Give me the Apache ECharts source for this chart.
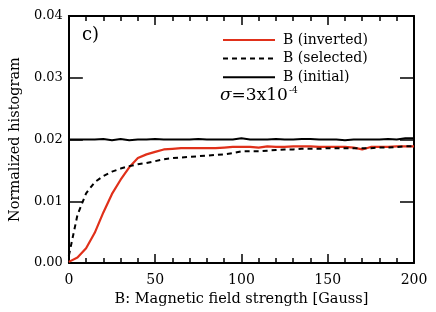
<!DOCTYPE html>
<html><head><meta charset="utf-8">
<script src="https://cdn.jsdelivr.net/npm/echarts@6/dist/echarts.min.js"></script>
<style>html,body{margin:0;padding:0;background:#fff}#c{width:436px;height:312px}</style>
</head><body><div id="c"></div>
<script>
const fieldB = [0,5,10,15,20,25,30,35,40,45,50,55,60,65,70,75,80,85,90,95,100,105,110,115,120,125,130,135,140,145,150,155,160,165,170,175,180,185,190,195,200];
const inverted = [0.0002,0.0009,0.0024,0.0049,0.0082,0.0112,0.0135,0.0155,0.0170,0.0176,0.0180,0.0184,0.0185,0.0186,0.0186,0.0186,0.0186,0.0186,0.0187,0.0188,0.0188,0.0188,0.0187,0.0189,0.0188,0.0188,0.0189,0.0189,0.0189,0.0188,0.0188,0.0188,0.0188,0.0187,0.0184,0.0188,0.0188,0.0188,0.0189,0.0189,0.0189];
const selected = [0.0012,0.0078,0.0113,0.0131,0.0141,0.0148,0.0153,0.0157,0.0160,0.0162,0.0165,0.0168,0.0170,0.0171,0.0172,0.0173,0.0174,0.0175,0.0176,0.0178,0.0181,0.0181,0.0181,0.0182,0.0183,0.0184,0.0184,0.0185,0.0185,0.0185,0.0186,0.0186,0.0186,0.0186,0.0186,0.0186,0.0187,0.0187,0.0188,0.0189,0.0189];
const initial = [0.0200,0.0200,0.0200,0.0200,0.0201,0.0199,0.0201,0.0199,0.0200,0.0200,0.0201,0.0200,0.0200,0.0200,0.0200,0.0201,0.0200,0.0200,0.0200,0.0200,0.0202,0.0200,0.0200,0.0200,0.0201,0.0200,0.0200,0.0201,0.0201,0.0200,0.0200,0.0200,0.0199,0.0200,0.0200,0.0200,0.0200,0.0201,0.0200,0.0202,0.0202];
const xTicks = [0,50,100,150,200];
const yTicks = ['0.00','0.01','0.02','0.03','0.04'];
const seriesNames = ['B (inverted)','B (selected)','B (initial)'];

const FONT = 'DejaVu Serif';
const RED = '#e0301a';
const pair = a => fieldB.map((b,i)=>[b,a[i]]);
const axLine = {show:true, onZero:false, lineStyle:{color:'#000', width:2}};
const tick = (len) => ({inside:true, length:len, lineStyle:{color:'#000', width:1.5}});
const chart = echarts.init(document.getElementById('c'), null, {renderer:'canvas'});
chart.setOption({
  animation:false,
  backgroundColor:'#fff',
  grid:{left:65, right:22, top:16, bottom:48},
  xAxis:[
    {type:'value', position:'bottom', min:0, max:200, interval:50,
     axisLine:axLine, splitLine:{show:false},
     axisTick:tick(9),
     minorTick:{show:true, splitNumber:5, length:5, lineStyle:{color:'#000', width:1.5}},
     axisLabel:{margin:10, color:'#000', fontFamily:FONT, fontSize:14,
       formatter:(v)=>String(xTicks[Math.round(v/50)])},
     name:'B: Magnetic field strength [Gauss]', nameLocation:'middle', nameGap:26,
     nameTextStyle:{color:'#000', fontFamily:FONT, fontSize:14.5}},
    {type:'value', position:'top', min:0, max:200, interval:50,
     axisLine:axLine, splitLine:{show:false},
     axisTick:tick(9),
     minorTick:{show:true, splitNumber:5, length:5, lineStyle:{color:'#000', width:1.5}},
     axisLabel:{show:false}}
  ],
  yAxis:[
    {type:'value', position:'left', min:0, max:0.04, interval:0.01,
     axisLine:axLine, splitLine:{show:false},
     axisTick:tick(14),
     axisLabel:{margin:6, color:'#000', fontFamily:FONT, fontSize:13,
       formatter:(v)=>yTicks[Math.round(v/0.01)]},
     name:'Normalized histogram', nameLocation:'middle', nameGap:44,
     nameTextStyle:{color:'#000', fontFamily:FONT, fontSize:14.5}},
    {type:'value', position:'right', min:0, max:0.04, interval:0.01,
     axisLine:axLine, splitLine:{show:false},
     axisTick:tick(14),
     axisLabel:{show:false}}
  ],
  legend:{
    orient:'vertical', left:217, top:28, itemWidth:52, itemHeight:14, itemGap:4.6,
    data:seriesNames,
    itemStyle:{opacity:0},
    textStyle:{color:'#000', fontFamily:FONT, fontSize:14, padding:[0,0,9,3]},
    selectedMode:false
  },
  graphic:[
    {type:'text', left:82, top:26, style:{text:'c)', fill:'#000', font:'18px "DejaVu Serif"'}},
    {type:'text', left:220, top:86, style:{
      text:'{i|σ}{n|=3x10}{s|-4}', fill:'#000',
      rich:{
        i:{fontStyle:'italic', fontFamily:FONT, fontSize:17, lineHeight:18, fill:'#000', verticalAlign:'bottom'},
        n:{fontFamily:FONT, fontSize:17, lineHeight:18, fill:'#000', verticalAlign:'bottom'},
        s:{fontFamily:FONT, fontSize:9, lineHeight:18, fill:'#000', verticalAlign:'top', padding:[0,0,0,1]}
      }}}
  ],
  series:[
    {name:seriesNames[2], type:'line', data:pair(initial), symbol:'none', xAxisIndex:0, yAxisIndex:0,
     lineStyle:{color:'#000', width:2}, itemStyle:{color:'#000'}},
    {name:seriesNames[0], type:'line', data:pair(inverted), symbol:'none', xAxisIndex:0, yAxisIndex:0,
     lineStyle:{color:RED, width:2.2}, itemStyle:{color:RED}},
    {name:seriesNames[1], type:'line', data:pair(selected), symbol:'none', xAxisIndex:0, yAxisIndex:0,
     lineStyle:{color:'#000', width:2, type:[5,4]}, itemStyle:{color:'#000'}},
    {name:'frame', type:'line', data:[], xAxisIndex:1, yAxisIndex:1, symbol:'none', silent:true}
  ]
});
</script></body></html>
